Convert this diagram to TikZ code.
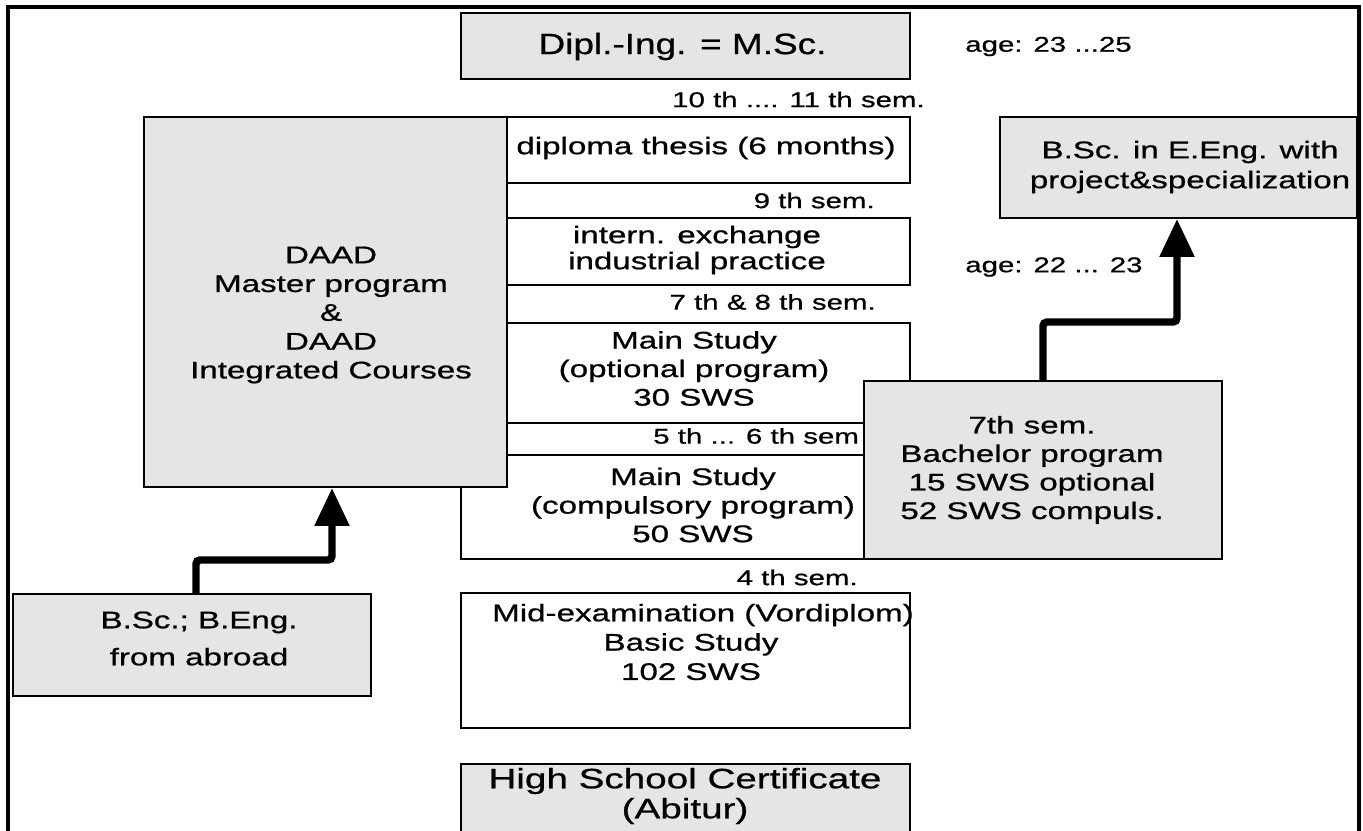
\documentclass[tikz,border=0pt]{standalone}
\usepackage{fontspec}
\setmainfont{Liberation Sans}[FakeStretch=1.38,FakeBold=0.8]
\newfontfamily\diplfont{Liberation Sans}[FakeStretch=1.26,FakeBold=0.8]
\usetikzlibrary{arrows.meta}
\definecolor{boxgray}{HTML}{E5E5E5}
\begin{document}
\begin{tikzpicture}[x=0.75pt,y=-0.75pt,
  graybox/.style={draw, line width=1.4pt, fill=boxgray, inner sep=0pt},
  whitebox/.style={draw, line width=1.4pt, fill=white, inner sep=0pt},
  txt/.style={inner sep=0pt, align=center, font=\fontsize{18}{21.4}\selectfont},
  lbl/.style={inner sep=0pt, font=\fontsize{16}{19}\selectfont},
  fatarrow/.style={line width=5.6pt, rounded corners=3pt, -{Triangle[length=28.5pt,width=25pt]}},
  frame/.style={line width=2.6pt}
]
\useasboundingbox (0,0) rectangle (1363,831);
\clip (0,0) rectangle (1363,831);
\draw[frame] (8,7) rectangle (1359,870);

% boxes
\node[graybox, minimum width=336.75pt, minimum height=49.5pt] (dipl) at (685.5,46) {};
\node[whitebox, minimum width=302.25pt, minimum height=49.5pt] (thesis) at (708.5,150) {};
\node[whitebox, minimum width=302.25pt, minimum height=50.25pt] (intern) at (708.5,251.5) {};
\node[whitebox, minimum width=302.25pt, minimum height=75pt] (optional) at (708.5,373) {};
\node[whitebox, minimum width=336.75pt, minimum height=78pt] (compulsory) at (685.5,507) {};
\node[graybox, minimum width=272.25pt, minimum height=277.5pt] (daad) at (325.5,302) {};
\node[lbl, anchor=west] (s56) at (653,436) {5 th ... 6 th sem};
\node[graybox, minimum width=268.5pt, minimum height=133.5pt] (bach) at (1043,470) {};
\node[graybox, minimum width=267.75pt, minimum height=75.75pt] (bsc) at (1178.5,167.5) {};
\node[graybox, minimum width=268.5pt, minimum height=76.5pt] (abroad) at (192,645) {};
\node[whitebox, minimum width=336.75pt, minimum height=101.25pt] (mid) at (685.5,660.5) {};
\node[graybox, minimum width=336.75pt, minimum height=90pt] (abitur) at (685.5,824) {};

% arrows
\coordinate (la) at (332,560);
\draw[fatarrow] ([xshift=3pt]abroad.north) |- (la) -- (la |- daad.south);
\coordinate (ra) at (1177,322);
\draw[fatarrow] (bach.north) |- (ra) -- (ra |- bsc.south);

% texts
\node[txt, font={\fontsize{22}{26}\diplfont}] (dipltxt) at (682.5,46.5) {Dipl.-Ing. = M.Sc.};
\node[lbl, anchor=west] (age1) at (965,46.5) {age: 23 ...25};
\node[lbl, anchor=east] (s10) at (925,99.5) {10 th .... 11 th sem.};
\node[txt] (thesistxt) at (706,148) {diploma thesis (6 months)};
\node[lbl, anchor=east] (s9) at (875,200.5) {9 th sem.};
\node[txt, font=\fontsize{18}{19.5}\selectfont] (interntxt) at (697,250) {intern. exchange\\industrial practice};
\node[lbl, anchor=east] (s78) at (876,302) {7 th \& 8 th sem.};
\node[txt] (opttxt) at (694,368.5) {Main Study\\(optional program)\\30 SWS};
\node[txt] (comptxt) at (693,505) {Main Study\\(compulsory program)\\50 SWS};
\node[txt] (bachtxt) at (1032,470) {7th sem.\\Bachelor program\\15 SWS optional\\52 SWS compuls.};
\node[lbl, anchor=west] (age2) at (965,267) {age: 22 ... 23};
\node[txt, font=\fontsize{18}{22.5}\selectfont] (bsctxt) at (1190,167) {B.Sc. in E.Eng. with\\project\&specialization};
\node[txt, font=\fontsize{18}{21.6}\selectfont] (daadtxt) at (331,315) {DAAD\\Master program\\\&\\DAAD\\Integrated Courses};
\node[lbl, anchor=east] (s4) at (858,577.5) {4 th sem.};
\node[txt, font=\fontsize{18}{27.75}\selectfont] (abroadtxt) at (199,638.5) {B.Sc.; B.Eng.\\from abroad};
\node[txt, font=\fontsize{18}{22}\selectfont] (midtxt) at (691,642) {\hspace*{18pt}Mid-examination (Vordiplom)\\Basic Study\\102 SWS};
\node[txt, font=\fontsize{21}{22.5}\selectfont] (abiturtxt) at (685,796) {High School Certificate\\(Abitur)};
\end{tikzpicture}
\end{document}
